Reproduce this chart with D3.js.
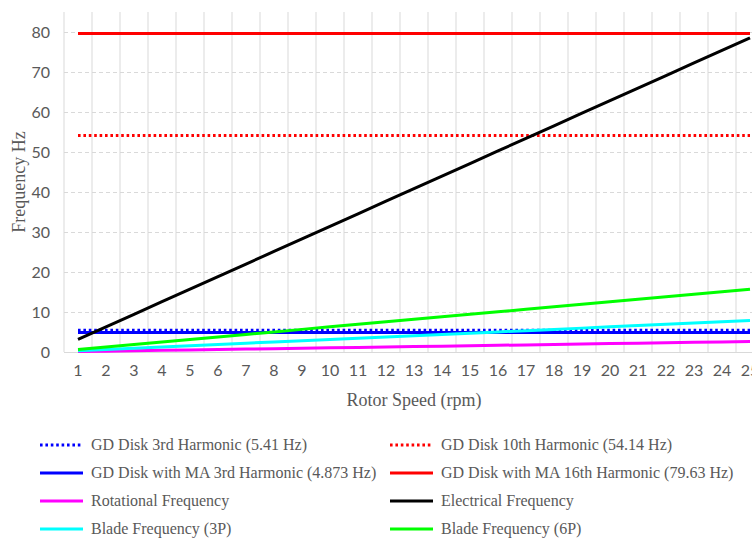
<!DOCTYPE html>
<html>
<head>
<meta charset="utf-8">
<script src="https://cdn.jsdelivr.net/npm/d3@7"></script>
<style>
  html, body { margin: 0; padding: 0; background: #fff; overflow: hidden; }
  svg { display: block; }
</style>
</head>
<body>
<svg id="chart" width="752" height="538"></svg>
<script>
// Rotor speed categories (rpm)
const rotorSpeed = d3.range(1, 26);
const yTicks = [0, 10, 20, 30, 40, 50, 60, 70, 80];

// Disk natural frequencies (Hz), constant across speed
const gd3rd = Array(25).fill(5.41);
const gd10th = Array(25).fill(54.14);
const gdMa3rd = Array(25).fill(4.873);
const gdMa16th = Array(25).fill(79.63);

// Excitation frequencies (Hz) at each rotor speed
const rotational = [0.105, 0.209, 0.314, 0.419, 0.524, 0.628, 0.733, 0.838, 0.942, 1.047,
  1.152, 1.257, 1.361, 1.466, 1.571, 1.676, 1.780, 1.885, 1.990, 2.094,
  2.199, 2.304, 2.409, 2.513, 2.618];
const electrical = [3.14, 6.28, 9.42, 12.57, 15.71, 18.85, 21.99, 25.13, 28.27, 31.42,
  34.56, 37.70, 40.84, 43.98, 47.12, 50.27, 53.41, 56.55, 59.69, 62.83,
  65.97, 69.12, 72.26, 75.40, 78.54];
const blade3P = [0.314, 0.628, 0.942, 1.257, 1.571, 1.885, 2.199, 2.513, 2.827, 3.142,
  3.456, 3.770, 4.084, 4.398, 4.712, 5.027, 5.341, 5.655, 5.969, 6.283,
  6.597, 6.912, 7.226, 7.540, 7.854];
const blade6P = [0.628, 1.257, 1.885, 2.513, 3.142, 3.770, 4.398, 5.027, 5.655, 6.283,
  6.912, 7.540, 8.168, 8.796, 9.425, 10.053, 10.681, 11.310, 11.938, 12.566,
  13.195, 13.823, 14.451, 15.080, 15.708];

const seriesNames = [
  "GD Disk 3rd Harmonic (5.41 Hz)",
  "GD Disk 10th Harmonic (54.14 Hz)",
  "GD Disk with MA 3rd Harmonic (4.873 Hz)",
  "GD Disk with MA 16th Harmonic (79.63 Hz)",
  "Rotational Frequency",
  "Electrical Frequency",
  "Blade Frequency (3P)",
  "Blade Frequency (6P)"
];
const seriesColors = ["#0000FF", "#FF0000", "#0000FF", "#FF0000", "#FF00FF", "#000000", "#00FFFF", "#00FF00"];
const seriesDotted = [true, true, false, false, false, false, false, false];
const seriesValues = [gd3rd, gd10th, gdMa3rd, gdMa16th, rotational, electrical, blade3P, blade6P];

const series = seriesNames.map((name, i) => ({
  name, color: seriesColors[i], dotted: seriesDotted[i], values: seriesValues[i]
}));

const svg = d3.select("#chart");
const plot = { left: 64, right: 764, top: 12, bottom: 352 };

const x = d3.scaleBand().domain(rotorSpeed).range([plot.left, plot.right]);
const y = d3.scaleLinear().domain([0, 85]).range([plot.bottom, plot.top]);
const xc = v => x(v) + x.bandwidth() / 2;

const axisColor = "#595959";
const tickFont = "Lato, 'Open Sans', sans-serif";
const serif = "'Liberation Serif', 'Times New Roman', serif";

// Vertical gridlines at category boundaries
const g = svg.append("g");
g.selectAll("line.vgrid")
  .data(rotorSpeed.concat([26]))
  .join("line")
  .attr("x1", d => d === 26 ? plot.right : x(d))
  .attr("x2", d => d === 26 ? plot.right : x(d))
  .attr("y1", plot.top).attr("y2", plot.bottom)
  .attr("stroke", "#d9d9d9").attr("stroke-width", 1);

// Horizontal dashed gridlines
g.selectAll("line.hgrid")
  .data(yTicks.filter(t => t > 0))
  .join("line")
  .attr("x1", plot.left).attr("x2", plot.right)
  .attr("y1", d => Math.round(y(d)) + 0.5).attr("y2", d => Math.round(y(d)) + 0.5)
  .attr("stroke", "#d9d9d9").attr("stroke-width", 1)
  .attr("stroke-dasharray", "4 3");

// X axis baseline
g.append("line")
  .attr("x1", plot.left).attr("x2", plot.right)
  .attr("y1", plot.bottom + 0.5).attr("y2", plot.bottom + 0.5)
  .attr("stroke", "#d9d9d9").attr("stroke-width", 1);

// Y axis tick labels
const yAxis = d3.axisLeft(y).tickValues(yTicks).tickSize(0).tickPadding(14);
const yg = svg.append("g").attr("transform", `translate(${plot.left},0)`).call(yAxis);
yg.select(".domain").remove();
yg.selectAll("text").attr("fill", axisColor)
  .style("font-family", tickFont).style("font-size", "16px");

// X axis tick labels
const xAxis = d3.axisBottom(x).tickSize(0).tickPadding(13);
const xg = svg.append("g").attr("transform", `translate(0,${plot.bottom})`).call(xAxis);
xg.select(".domain").remove();
xg.selectAll("text").attr("fill", axisColor)
  .style("font-family", tickFont).style("font-size", "16px");

// Axis titles
svg.append("text")
  .attr("x", (plot.left + plot.right) / 2).attr("y", 406)
  .attr("text-anchor", "middle").attr("fill", axisColor)
  .style("font-family", serif).style("font-size", "18px")
  .text("Rotor Speed (rpm)");

svg.append("text")
  .attr("transform", `translate(25,${(plot.top + plot.bottom) / 2}) rotate(-90)`)
  .attr("text-anchor", "middle").attr("fill", axisColor)
  .style("font-family", serif).style("font-size", "18px")
  .text("Frequency Hz");

// Series lines
const line = d3.line()
  .x((d, i) => xc(rotorSpeed[i]))
  .y(d => y(d));

svg.append("g").selectAll("path")
  .data(series)
  .join("path")
  .attr("d", d => line(d.values))
  .attr("fill", "none")
  .attr("stroke", d => d.color)
  .attr("stroke-width", 3)
  .attr("stroke-dasharray", d => d.dotted ? "2.6 2.8" : null)
  .attr("stroke-linejoin", "round");

// Legend, two columns filled row by row
const legendCols = [40, 390];
const legendRows = [445, 473, 501, 529];
const lg = svg.append("g").selectAll("g")
  .data(series)
  .join("g")
  .attr("transform", (d, i) => `translate(${legendCols[i % 2]},${legendRows[Math.floor(i / 2)]})`);

lg.append("line")
  .attr("x1", 0).attr("x2", 43).attr("y1", 0).attr("y2", 0)
  .attr("stroke", d => d.color).attr("stroke-width", 3)
  .attr("stroke-dasharray", d => d.dotted ? "2.6 2.8" : null);

lg.append("text")
  .attr("x", 51).attr("y", 0).attr("dy", "0.33em")
  .attr("fill", axisColor)
  .style("font-family", serif).style("font-size", "16px")
  .text(d => d.name);
</script>
</body>
</html>
